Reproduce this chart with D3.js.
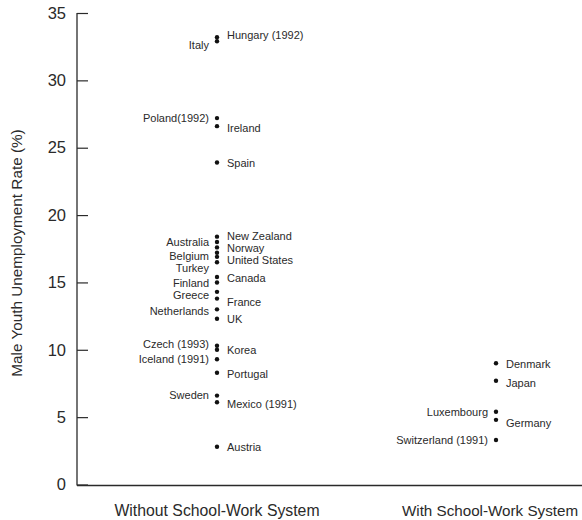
<!DOCTYPE html>
<html>
<head>
<meta charset="utf-8">
<script src="https://cdn.jsdelivr.net/npm/d3@7"></script>
<style>
  html, body { margin: 0; padding: 0; background: #ffffff; }
  svg { display: block; font-family: "Liberation Sans", Arial, Helvetica, sans-serif; }
</style>
</head>
<body>
<svg id="chart" width="582" height="520"></svg>
<script>
// ---- data ----
const categories = ["Without School-Work System", "With School-Work System"];

const withoutCountries = ["Hungary (1992)", "Italy", "Poland(1992)", "Ireland", "Spain",
  "New Zealand", "Australia", "Norway", "Belgium", "United States", "Turkey",
  "Canada", "Finland", "Greece", "France", "Netherlands", "UK",
  "Czech (1993)", "Korea", "Iceland (1991)", "Portugal", "Sweden", "Mexico (1991)", "Austria"];
const withoutValues = [33.2, 32.9, 27.2, 26.6, 23.9,
  18.4, 18.0, 17.6, 17.2, 16.9, 16.5,
  15.4, 15.0, 14.3, 13.8, 13.0, 12.3,
  10.3, 10.0, 9.3, 8.3, 6.6, 6.1, 2.8];
const withoutSide = ["right", "left", "left", "right", "right",
  "right", "left", "right", "left", "right", "left",
  "right", "left", "left", "right", "left", "right",
  "left", "right", "left", "right", "left", "right", "right"];

const withCountries = ["Denmark", "Japan", "Luxembourg", "Germany", "Switzerland (1991)"];
const withValues = [9.0, 7.7, 5.4, 4.8, 3.3];
const withSide = ["right", "right", "left", "right", "left"];

const yTicks = [0, 5, 10, 15, 20, 25, 30, 35];
const yTitle = "Male Youth Unemployment Rate (%)";

// ---- layout (pixel nudges for label text, kept apart from the data) ----
const labelNudge = {
  "Hungary (1992)": -2, "Italy": 4, "Poland(1992)": 0, "Ireland": 2, "Spain": 1,
  "New Zealand": 0, "Australia": 0, "Norway": 1, "Belgium": 3, "United States": 3,
  "Turkey": 6, "Canada": 1, "Finland": 1, "Greece": 3, "France": 4,
  "Netherlands": 2, "UK": 0, "Czech (1993)": -2, "Korea": 0, "Iceland (1991)": 0,
  "Portugal": 1, "Sweden": 0, "Mexico (1991)": 2, "Austria": 0,
  "Denmark": 1, "Japan": 2, "Luxembourg": 0, "Germany": 3, "Switzerland (1991)": 0
};

const svg = d3.select("#chart");
const ink = "#2a2a2a";

const y = d3.scaleLinear().domain([0, 35]).range([484.5, 13]);
const x = d3.scalePoint().domain(categories).range([217, 496]);

// y axis
const yAxis = d3.axisLeft(y).tickValues(yTicks).tickSize(-11).tickPadding(11);
const gy = svg.append("g").attr("transform", "translate(77,0)").call(yAxis);
gy.select(".domain").attr("stroke", ink).attr("stroke-width", 1.3).attr("d", "M0,13V485.5");
gy.selectAll(".tick line").attr("stroke", ink).attr("stroke-width", 1.2);
gy.selectAll(".tick text").attr("fill", ink).attr("font-size", 16.5)
  .attr("font-family", "Liberation Sans, Arial, sans-serif");

// x axis line + category labels
svg.append("line").attr("x1", 77).attr("x2", 582).attr("y1", 485.5).attr("y2", 485.5)
  .attr("stroke", ink).attr("stroke-width", 1.4);
svg.selectAll(".cat").data(categories).enter().append("text")
  .attr("class", "cat")
  .attr("x", (d, i) => x(d) - (i === 1 ? 6 : 0))
  .attr("y", 516)
  .attr("text-anchor", "middle")
  .attr("font-size", (d, i) => i === 1 ? 15.2 : 15.8)
  .attr("fill", ink)
  .text(d => d);

// y title
svg.append("text")
  .attr("transform", "translate(22,253) rotate(-90)")
  .attr("text-anchor", "middle")
  .attr("font-size", 15.3)
  .attr("fill", ink)
  .text(yTitle);

// points
const points = [];
withoutCountries.forEach((c, i) => points.push({name: c, cat: categories[0], value: withoutValues[i], side: withoutSide[i]}));
withCountries.forEach((c, i) => points.push({name: c, cat: categories[1], value: withValues[i], side: withSide[i]}));

svg.selectAll(".dot").data(points).enter().append("circle")
  .attr("class", "dot")
  .attr("cx", d => x(d.cat))
  .attr("cy", d => y(d.value))
  .attr("r", 2.2)
  .attr("fill", "#111");

svg.selectAll(".lbl").data(points).enter().append("text")
  .attr("class", "lbl")
  .attr("x", d => x(d.cat) + (d.side === "left" ? -8 : 10))
  .attr("y", d => y(d.value) + (labelNudge[d.name] || 0))
  .attr("dy", "0.35em")
  .attr("text-anchor", d => d.side === "left" ? "end" : "start")
  .attr("font-size", 11)
  .attr("fill", ink)
  .text(d => d.name);
</script>
</body>
</html>
